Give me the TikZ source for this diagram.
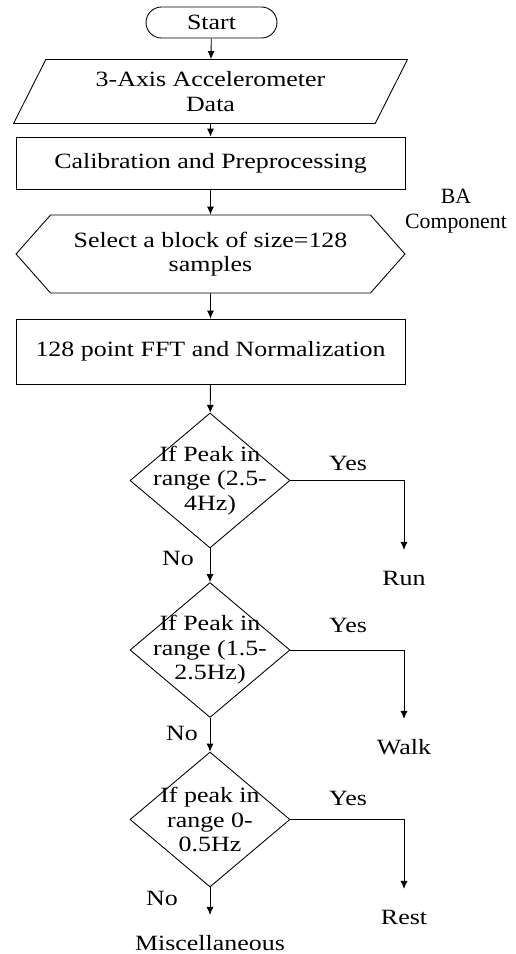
\documentclass[tikz,border=0pt]{standalone}
\usepackage{fontspec}
\setmainfont[FakeStretch=1.19]{Liberation Serif}
\newfontfamily\plainserif{Liberation Serif}
\usepackage{tikz}
\usetikzlibrary{positioning, calc, arrows.meta, shapes.geometric, shapes.symbols}
\tikzset{flow/.style={draw, line width=0.5pt, -{Latex[length=4.5pt,width=4pt]}}}
\tikzset{termbox/.style={draw, line width=0.5pt, rounded corners=0.31cm, minimum width=2.62cm, minimum height=0.62cm}}
\tikzset{iobox/.style={draw, line width=0.5pt, trapezium, trapezium left angle=58, trapezium right angle=122, trapezium stretches body, minimum width=7.88cm, minimum height=1.28cm, align=center}}
\tikzset{procbox/.style={draw, line width=0.5pt, minimum width=7.78cm, align=center}}
\tikzset{prepbox/.style={draw, line width=0.5pt, signal, signal to=east and west, signal pointer angle=97, minimum width=7.78cm, minimum height=1.56cm, align=center}}
\tikzset{decision/.style={draw, line width=0.5pt, diamond, minimum width=3.2cm, minimum height=2.7cm, inner sep=0pt}}
\tikzset{outcome/.style={inner sep=0pt, outer sep=12pt, text height=8pt, text depth=0pt}}

\begin{document}
\begin{tikzpicture}[x=0.02cm, y=-0.02cm, every node/.style={font=\fontsize{12.4}{14}\selectfont, align=center}]
            \useasboundingbox (0,0) rectangle (516,954);

            \node[termbox] (start) at (211.5, 22.5) {Start};
            \node[iobox] (accdata) at (210.5, 91.5) {3-Axis Accelerometer\\Data};
            \node[procbox, minimum height=1.04cm] (calib) at (210.5, 163) {Calibration and Preprocessing};
            \node[prepbox] (block) at (210.5, 254) {Select a block of size=128\\samples};
            \node[font=\plainserif\fontsize{12.4}{14}\selectfont] (bacomp) at (456, 211) {BA\\Component};
            \node[procbox, minimum height=1.3cm] (fft) at (210.5, 351.5) {128 point FFT and Normalization};

            \node[decision] (peakA) at (210, 480.5) {};
            \node[decision] (peakB) at (210, 650) {};
            \node[decision] (peakC) at (210, 819.5) {};
            \node at (peakA) {If Peak in\\range (2.5-\\4Hz)};
            \node at (peakB) {If Peak in\\range (1.5-\\2.5Hz)};
            \node at (peakC) {If peak in\\range 0-\\0.5Hz};

            \node[outcome] (run)  at (404, 578) {Run};
            \node[outcome] (walk) at (404, 747) {Walk};
            \node[outcome] (rest) at (404, 917) {Rest};
            \node[outcome] (misc) at (210, 943) {Miscellaneous};

            \draw[flow] (start) -- (accdata);
            \draw[flow] (accdata) -- (calib);
            \draw[flow] (calib) -- (block);
            \draw[flow] (block) -- (fft);
            \draw[flow] (fft) -- (peakA);
            \draw[flow] (peakA.south) -- (peakB.north);
            \draw[flow] (peakB.south) -- (peakC.north);
            \draw[flow] (peakC.south) -- (misc.north);
            \draw[flow] (peakA.east) -| (run.north);
            \draw[flow] (peakB.east) -| (walk.north);
            \draw[flow] (peakC.east) -| (rest.north);

            \node at (348, 463) {Yes};
            \node at (348, 625) {Yes};
            \node at (348, 798) {Yes};
            \node at (178, 558) {No};
            \node at (182, 733) {No};
            \node at (162, 898) {No};
        \end{tikzpicture}
\end{document}
